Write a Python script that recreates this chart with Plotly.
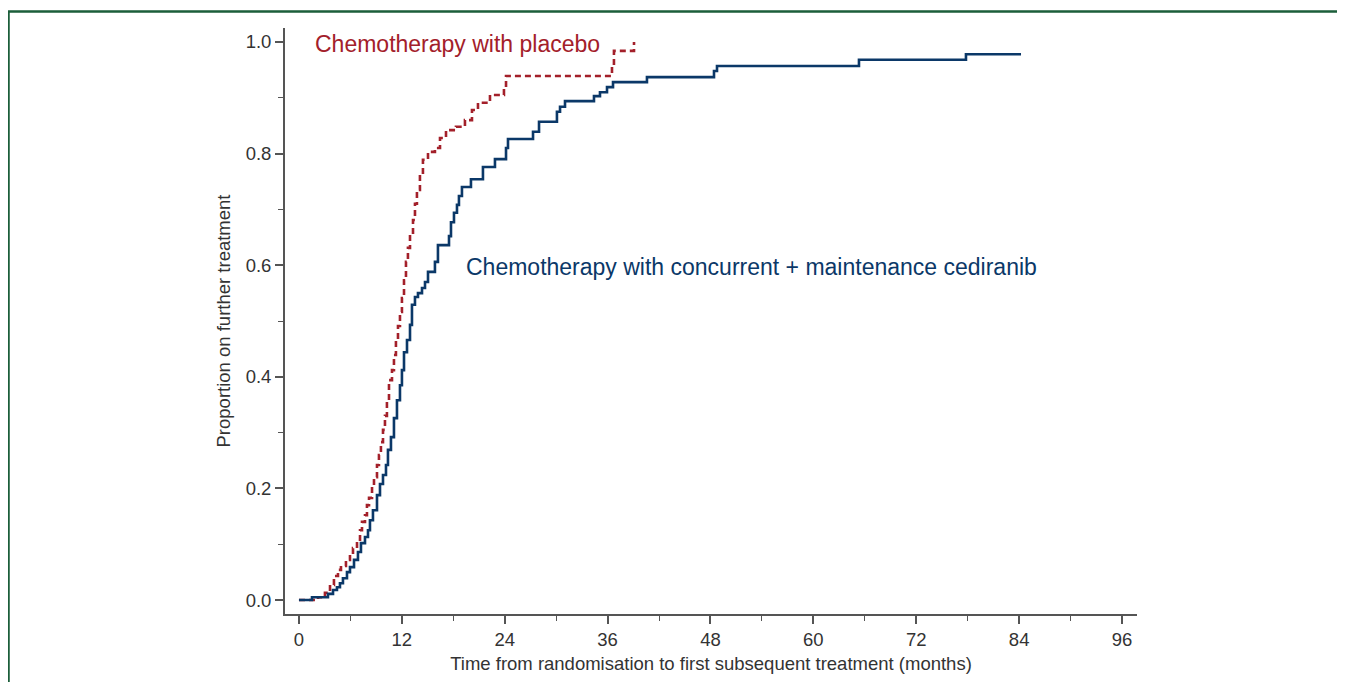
import plotly.graph_objects as go

# Cediranib arm (solid navy) - step function: time (months), cumulative proportion
ced_time = [0, 1.52, 3.38, 3.97, 4.43, 4.78, 5.13, 5.60, 5.95, 6.42, 6.88, 7.23, 7.70, 8.05, 8.28,
            8.63, 9.10, 9.45, 9.80, 10.15, 10.38, 10.73, 11.08, 11.43, 11.78, 12.01, 12.25, 12.60,
            12.95, 13.18, 13.53, 13.88, 14.35, 14.70, 15.05, 15.86, 16.21, 17.50, 17.73, 18.08,
            18.43, 18.66, 19.01, 20.06, 21.46, 22.86, 24.15, 24.38, 27.30, 28.00, 30.09, 30.45,
            31.03, 34.41, 35.11, 35.93, 36.63, 40.59, 48.41, 48.76, 65.32, 77.80, 84.22]
ced_prop = [0, 0.005, 0.011, 0.018, 0.023, 0.030, 0.039, 0.050, 0.059, 0.072, 0.086, 0.102, 0.113,
            0.125, 0.143, 0.161, 0.188, 0.208, 0.224, 0.242, 0.269, 0.292, 0.326, 0.358, 0.385,
            0.412, 0.444, 0.466, 0.493, 0.529, 0.543, 0.550, 0.559, 0.570, 0.588, 0.606, 0.636,
            0.652, 0.677, 0.694, 0.708, 0.724, 0.740, 0.754, 0.776, 0.790, 0.810, 0.826, 0.839,
            0.857, 0.875, 0.884, 0.894, 0.903, 0.910, 0.919, 0.928, 0.937, 0.948, 0.957, 0.968,
            0.978, 0.978]

# Placebo arm (dashed red)
pla_time = [0, 2.22, 3.03, 3.62, 4.08, 4.55, 4.90, 5.48, 5.95, 6.30, 6.77, 7.12, 7.35, 7.70, 7.93,
            8.17, 8.52, 8.75, 9.10, 9.33, 9.56, 9.80, 10.03, 10.26, 10.50, 10.85, 11.08, 11.31,
            11.55, 11.78, 12.01, 12.25, 12.48, 12.71, 12.95, 13.30, 13.53, 13.76, 14.11, 14.46,
            15.05, 15.86, 16.45, 17.15, 18.31, 19.36, 20.18, 20.88, 22.28, 23.91, 24.15, 36.51,
            36.74, 39.08]
pla_prop = [0, 0.005, 0.013, 0.027, 0.043, 0.054, 0.061, 0.072, 0.081, 0.093, 0.108, 0.125, 0.140,
            0.152, 0.170, 0.183, 0.203, 0.220, 0.242, 0.260, 0.283, 0.305, 0.330, 0.358, 0.394,
            0.412, 0.439, 0.466, 0.491, 0.516, 0.541, 0.573, 0.606, 0.631, 0.654, 0.681, 0.710,
            0.735, 0.762, 0.789, 0.803, 0.810, 0.828, 0.842, 0.848, 0.860, 0.878, 0.891, 0.905,
            0.918, 0.939, 0.961, 0.984, 1.0]

x_ticks = [0, 12, 24, 36, 48, 60, 72, 84, 96]
y_ticks = [0.0, 0.2, 0.4, 0.6, 0.8, 1.0]
y_tick_labels = ["0.0", "0.2", "0.4", "0.6", "0.8", "1.0"]

NAVY = "#0b3868"
RED = "#a3202a"
GREY = "#555555"
TXT = "#333333"
FONT = "Arial, Liberation Sans, sans-serif"

# plot area in figure pixels (page adds an 8px body margin)
L, R, T, B = 277, 1129, 20, 606
PW, PH = R - L, B - T

fig = go.Figure()
fig.add_trace(go.Scatter(x=pla_time, y=pla_prop, mode="lines", line_shape="hv",
                         line=dict(color=RED, width=2.6, dash="6px,4px"), hoverinfo="skip"))
fig.add_trace(go.Scatter(x=ced_time, y=ced_prop, mode="lines", line_shape="hv",
                         line=dict(color=NAVY, width=2.6), hoverinfo="skip"))

fig.add_annotation(x=1.63, y=0.996, xref="x", yref="y", text="Chemotherapy with placebo",
                   showarrow=False, xanchor="left", yanchor="middle",
                   font=dict(family=FONT, size=23, color=RED))
fig.add_annotation(x=19.25, y=0.597, xref="x", yref="y",
                   text="Chemotherapy with concurrent + maintenance cediranib",
                   showarrow=False, xanchor="left", yanchor="middle",
                   font=dict(family=FONT, size=23, color=NAVY))

# green frame
fig.add_shape(type="rect", xref="paper", yref="paper",
              x0=(0.5 - L) / PW, x1=(1334.5 - L) / PW,
              y0=-0.3, y1=(B - 3.5) / PH,
              line=dict(color="#1b5e3a", width=2.5), fillcolor="rgba(0,0,0,0)", layer="below")

fig.update_layout(
    width=1345, height=682,
    margin=dict(l=L, r=1345 - R, t=T, b=682 - B),
    paper_bgcolor="white", plot_bgcolor="white",
    showlegend=False,
    font=dict(family=FONT, size=18, color=TXT),
    xaxis=dict(range=[-1.63, 97.75], tickmode="array", tickvals=x_ticks,
               showline=True, linecolor=GREY, linewidth=1.8, showgrid=False, zeroline=False,
               ticks="outside", ticklen=8, tickwidth=1.5, tickcolor=GREY,
               tickfont=dict(size=18.5, color=TXT),
               minor=dict(dtick=6, tick0=0, ticks="outside", ticklen=5, tickwidth=1.2, tickcolor=GREY),
               title=dict(text="Time from randomisation to first subsequent treatment (months)",
                          font=dict(size=18.5, color=TXT), standoff=8)),
    yaxis=dict(range=[-0.025, 1.025], tickmode="array", tickvals=y_ticks, ticktext=y_tick_labels,
               showline=True, linecolor=GREY, linewidth=1.8, showgrid=False, zeroline=False,
               ticks="outside", ticklen=8, tickwidth=1.5, tickcolor=GREY,
               tickfont=dict(size=18.5, color=TXT),
               minor=dict(dtick=0.1, tick0=0, ticks="outside", ticklen=5, tickwidth=1.2, tickcolor=GREY),
               title=dict(text="Proportion on further treatment",
                          font=dict(size=18.5, color=TXT), standoff=10)),
)

fig.write_html("out.html")
